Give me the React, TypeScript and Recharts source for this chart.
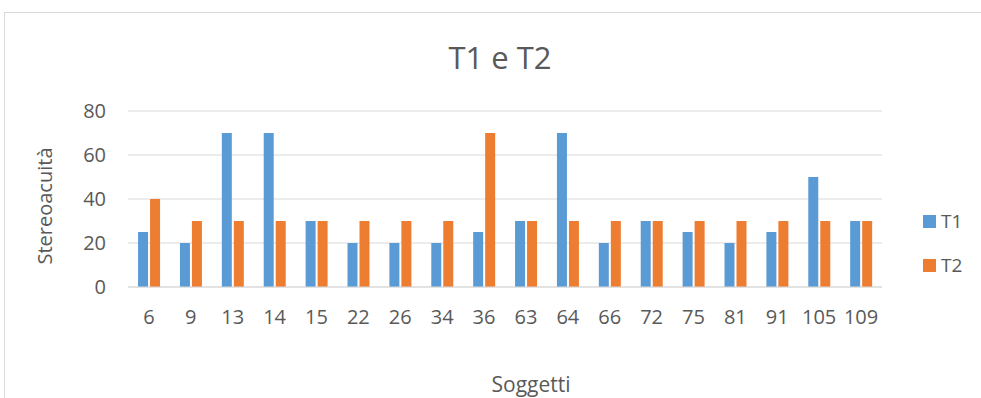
import React from 'react';
import { BarChart, Bar, XAxis, YAxis, CartesianGrid } from 'recharts';

const categories = ['6', '9', '13', '14', '15', '22', '26', '34', '36', '63', '64', '66', '72', '75', '81', '91', '105', '109'];
const t1 = [25, 20, 70, 70, 30, 20, 20, 20, 25, 30, 70, 20, 30, 25, 20, 25, 50, 30];
const t2 = [40, 30, 30, 30, 30, 30, 30, 30, 70, 30, 30, 30, 30, 30, 30, 30, 30, 30];
const yTicks = [0, 20, 40, 60, 80];
const seriesNames = ['T1', 'T2'];
const seriesColors = ['#5B9BD5', '#ED7D31'];

const data = categories.map((c, i) => ({ name: c, T1: t1[i], T2: t2[i] }));

const FONT = '"Open Sans", "Liberation Sans", sans-serif';
const TEXT = '#595959';

export default function App() {
  return (
    <div style={{ position: 'absolute', left: 0, top: 0, width: 981, height: 398, background: '#fff', overflow: 'hidden' }}>
      <div style={{ position: 'absolute', left: 4, top: 12, width: 1000, height: 500, border: '1px solid #d9d9d9', boxSizing: 'border-box' }} />
      <div style={{ position: 'absolute', left: 0, top: 57, width: 1000, height: 0 }}>
        <div style={{ position: 'absolute', left: 0, width: 1000, top: 0, transform: 'translateY(-50%)', textAlign: 'center', fontFamily: FONT, fontSize: 31, color: TEXT, lineHeight: 1 }}>T1 e T2</div>
      </div>
      <div style={{ position: 'absolute', left: 0, top: 384, width: 1062, height: 0 }}>
        <div style={{ position: 'absolute', left: 0, width: 1062, top: 0, transform: 'translateY(-50%)', textAlign: 'center', fontFamily: FONT, fontSize: 21, color: TEXT, lineHeight: 1 }}>Soggetti</div>
      </div>
      <div style={{ position: 'absolute', left: 45, top: 206, width: 0, height: 0 }}>
        <div style={{ position: 'absolute', transform: 'translate(-50%, -50%) rotate(-90deg)', fontFamily: FONT, fontSize: 20, color: TEXT, whiteSpace: 'nowrap', lineHeight: 1 }}>Stereoacuità</div>
      </div>
      <div style={{ position: 'absolute', left: 923, top: 209, fontFamily: FONT, fontSize: 19, color: TEXT }}>
        {seriesNames.map((n, i) => (
          <div key={n} style={{ display: 'flex', alignItems: 'center', height: 24, marginBottom: i === 0 ? 20 : 0 }}>
            <span style={{ width: 13, height: 13, background: seriesColors[i], display: 'inline-block', marginRight: 5 }} />
            <span>{n}</span>
          </div>
        ))}
      </div>
      <div style={{ position: 'absolute', left: 0, top: 0 }}>
        <BarChart
          width={981}
          height={398}
          data={data}
          margin={{ top: 111, right: 99, left: 68, bottom: 81 }}
          barCategoryGap="24%"
          barGap={2}
        >
          <CartesianGrid vertical={false} stroke="#d9d9d9" strokeWidth={1} />
          <XAxis
            dataKey="name"
            tickLine={false}
            axisLine={{ stroke: '#d9d9d9' }}
            tick={{ fill: TEXT, fontSize: 20, fontFamily: FONT }}
            tickMargin={17}
            height={30}
            interval={0}
          />
          <YAxis
            domain={[0, 80]}
            ticks={yTicks}
            tickLine={false}
            axisLine={false}
            tick={{ fill: TEXT, fontSize: 20, fontFamily: FONT }}
            tickMargin={16}
            width={60}
          />
          <Bar dataKey="T1" name={seriesNames[0]} fill={seriesColors[0]} isAnimationActive={false} />
          <Bar dataKey="T2" name={seriesNames[1]} fill={seriesColors[1]} isAnimationActive={false} />
        </BarChart>
      </div>
    </div>
  );
}
